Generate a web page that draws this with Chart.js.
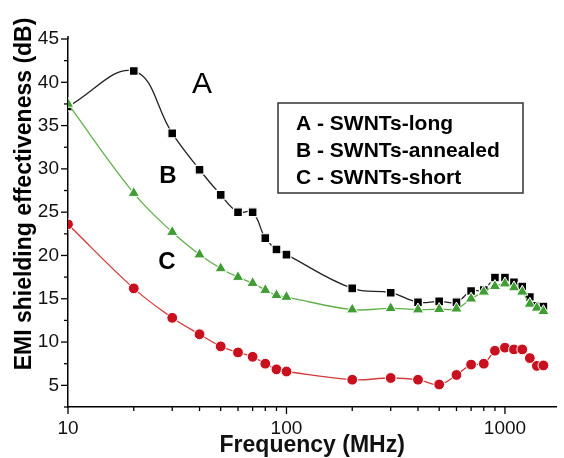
<!DOCTYPE html>
<html>
<head>
<meta charset="utf-8">
<script src="https://cdn.jsdelivr.net/npm/chart.js@4.4.1/dist/chart.umd.min.js"></script>
<style>
html,body{margin:0;padding:0;background:#fff;}
canvas{display:block;}
</style>
</head>
<body>
<canvas id="chart" width="564" height="458"></canvas>
<script>
// frequencies (MHz) shared by the three samples
const freqs = [10,20,30,40,50,60,70,80,90,100,200,300,400,500,600,700,800,900,1000,1100,1200,1300,1400,1500];
const seriesA = [37.2,41.3,34.1,29.9,27.0,25.0,25.0,22.0,20.7,20.1,16.2,15.7,14.6,14.7,14.6,15.9,16.0,17.45,17.45,16.9,16.4,15.2,14.2,14.1];
const seriesB = [37.5,27.2,22.7,20.1,18.5,17.5,16.8,16.0,15.4,15.2,13.75,13.9,13.75,13.8,13.85,15.0,15.8,16.45,16.75,16.3,15.8,14.4,13.95,13.55];
const seriesC = [23.6,16.2,12.8,10.9,9.5,8.8,8.3,7.5,6.85,6.6,5.65,5.85,5.65,5.1,6.2,7.4,7.5,9.0,9.35,9.15,9.15,8.15,7.25,7.3];

const legendLines = ["A - SWNTs-long","B - SWNTs-annealed","C - SWNTs-short"];
const curveLetters = ["A","B","C"];
const xTicks = [10,20,30,40,50,60,70,80,90,100,200,300,400,500,600,700,800,900,1000];
const xLabels = [10,100,1000];
const xTitle = "Frequency (MHz)";
const yTitle = "EMI shielding effectiveness (dB)";

function pts(vals){
  return freqs.map((f,i)=>({x:f,y:vals[i]}));
}

// tick marks: longer for labelled ticks
const tickMarks = {
  id:"tickMarks",
  afterDraw(chart){
    const ctx = chart.ctx;
    const xs = chart.scales.x, ys = chart.scales.y;
    ctx.save();
    ctx.strokeStyle = "#000";
    ctx.lineWidth = 1.3;
    xs.ticks.forEach(t=>{
      let px = xs.getPixelForValue(t.value);
      let len = xLabels.includes(t.value) ? 7 : 4;
      ctx.beginPath();
      ctx.moveTo(px, xs.top);
      ctx.lineTo(px, xs.top + len);
      ctx.stroke();
    });
    ys.ticks.forEach(t=>{
      let py = ys.getPixelForValue(t.value);
      let len = t.value % 5 === 0 ? 7 : 4;
      ctx.beginPath();
      ctx.moveTo(ys.right - len, py);
      ctx.lineTo(ys.right, py);
      ctx.stroke();
    });
    // axis line runs a little past the 45 tick
    ctx.lineWidth = 1.5;
    ctx.beginPath();
    ctx.moveTo(ys.right, ys.top);
    ctx.lineTo(ys.right, ys.top - 3);
    ctx.stroke();
    ctx.restore();
  }
};

// y title, curve letters and the boxed legend
const extras = {
  id:"extras",
  afterDraw(chart){
    const ctx = chart.ctx;
    ctx.save();
    ctx.fillStyle = "#000";

    ctx.translate(31, 194);
    ctx.rotate(-Math.PI/2);
    ctx.font = "bold 23px 'Liberation Sans', Arial, sans-serif";
    ctx.textAlign = "center";
    ctx.textBaseline = "alphabetic";
    ctx.fillText(yTitle, 0, 0);
    ctx.setTransform(1,0,0,1,0,0);

    ctx.textBaseline = "middle";
    ctx.font = "30px 'Liberation Sans', Arial, sans-serif";
    ctx.fillText(curveLetters[0], 202, 85);
    ctx.font = "bold 24px 'Liberation Sans', Arial, sans-serif";
    ctx.fillText(curveLetters[1], 168, 176);
    ctx.fillText(curveLetters[2], 167, 262);

    ctx.strokeStyle = "#333";
    ctx.lineWidth = 1.5;
    ctx.strokeRect(278, 103, 245, 90);
    ctx.textAlign = "left";
    ctx.font = "bold 21px 'Liberation Sans', Arial, sans-serif";
    legendLines.forEach((s,i)=>{
      ctx.fillText(s, 296, 124 + i*27);
    });
    ctx.restore();
  }
};

new Chart(document.getElementById("chart"), {
  type:"line",
  data:{
    datasets:[
      {
        label:"A", data:pts(seriesA), order:2,
        borderColor:"#222", borderWidth:1.3, tension:0.4,
        pointStyle:"rect", pointRadius:6.2,
        pointBackgroundColor:"#000", pointBorderColor:"#fff", pointBorderWidth:1.2
      },
      {
        label:"B", data:pts(seriesB), order:1,
        borderColor:"#62b04a", borderWidth:1.3, tension:0.4,
        pointStyle:"triangle", pointRadius:6.6,
        pointBackgroundColor:"#3f9d33", pointBorderColor:"#fff", pointBorderWidth:1
      },
      {
        label:"C", data:pts(seriesC), order:3,
        borderColor:"#d43a3a", borderWidth:1.3, tension:0.4,
        pointStyle:"circle", pointRadius:5.4,
        pointBackgroundColor:"#c8101e", pointBorderColor:"#fff", pointBorderWidth:1
      }
    ]
  },
  options:{
    responsive:false,
    animation:false,
    layout:{padding:{top:39, right:0, left:0, bottom:0}},
    plugins:{legend:{display:false}, tooltip:{enabled:false}},
    scales:{
      x:{
        type:"logarithmic", min:10, max:1720,
        afterBuildTicks(scale){ scale.ticks = xTicks.map(v=>({value:v})); },
        afterFit(scale){ scale.height = 51; },
        grid:{display:false, drawTicks:false},
        border:{display:true, color:"#000", width:1.5},
        ticks:{
          autoSkip:false, maxRotation:0, padding:12, color:"#111",
          font:{family:"'Liberation Sans', Arial, sans-serif", size:19, lineHeight:1},
          callback:(v)=>xLabels.includes(v) ? String(v) : ""
        },
        title:{
          display:true, text:xTitle, color:"#111",
          font:{family:"'Liberation Sans', Arial, sans-serif", size:23, weight:"bold", lineHeight:1},
          padding:{top:0, bottom:1}
        }
      },
      y:{
        min:2.5, max:45,
        afterFit(scale){ scale.width = 68; },
        grid:{display:false, drawTicks:false},
        border:{display:true, color:"#000", width:1.5},
        ticks:{
          stepSize:2.5, autoSkip:false, padding:9, color:"#111",
          font:{family:"'Liberation Sans', Arial, sans-serif", size:19},
          callback:(v)=>v % 5 === 0 ? String(v) : ""
        }
      }
    }
  },
  plugins:[tickMarks, extras]
});
</script>
</body>
</html>
